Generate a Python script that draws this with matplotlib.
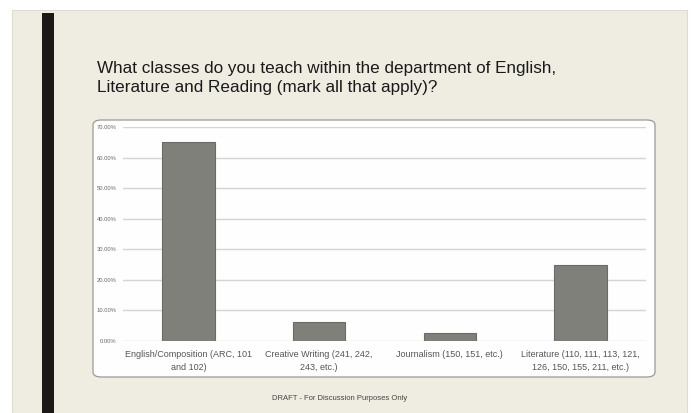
import matplotlib
matplotlib.use("Agg")
import matplotlib.pyplot as plt
from matplotlib.patches import Rectangle, FancyBboxPatch
from matplotlib.ticker import PercentFormatter

# survey answers, share of respondents
categories = [
    "English/Composition (ARC, 101\nand 102)",
    "Creative Writing (241, 242,\n243, etc.)",
    "Journalism (150, 151, etc.)",
    "Literature (110, 111, 113, 121,\n126, 150, 155, 211, etc.)",
]
shares = [0.652, 0.062, 0.026, 0.247]
yticks = [0.0, 0.1, 0.2, 0.3, 0.4, 0.5, 0.6, 0.7]

title = ("What classes do you teach within the department of English,\n"
         "Literature and Reading (mark all that apply)?")
footer = "DRAFT - For Discussion Purposes Only"

plt.rcParams['font.family'] = ['Liberation Sans', 'DejaVu Sans']

W, H = 696, 413
fig = plt.figure(figsize=(W / 100, H / 100), dpi=100)
fig.patch.set_facecolor("white")

def px(x, y):
    # pixel position (from top-left) -> figure fraction
    return x / W, 1 - y / H

# slide background
x0, y0 = px(12, 413)
fig.patches.append(Rectangle((x0, y0), (687 - 12) / W, (413 - 10) / H,
                             transform=fig.transFigure, facecolor="#efece2",
                             edgecolor="#dedbd2", lw=0.8, zorder=0))
# black accent bar on the left
x0, y0 = px(42, 413)
fig.patches.append(Rectangle((x0, y0), 12 / W, (413 - 13) / H,
                             transform=fig.transFigure, facecolor="#1b1a16",
                             edgecolor="none", zorder=1))
# white chart box with rounded corners
x0, y0 = px(93, 377)
fig.patches.append(FancyBboxPatch((x0, y0), (655 - 93) / W, (377 - 120) / H,
                                  boxstyle="round,pad=0,rounding_size=0.012",
                                  transform=fig.transFigure, facecolor="#fefefe",
                                  edgecolor="#9a9a96", lw=0.9, zorder=1))

tx, ty = px(97, 78)
fig.text(tx, ty, title, fontsize=12.3, color="#1a1a1a", va="center",
         ha="left", linespacing=1.3)

fx, fy = px(340, 399)
fig.text(fx, fy, footer, fontsize=5.5, color="#444444", ha="center", va="center")

# plot area
left, bottom = px(123.2, 340.7)
right, top = px(645.8, 127)
ax = fig.add_axes([left, bottom, right - left, top - bottom])
ax.set_facecolor("none")
ax.set_zorder(2)

xs = range(len(categories))
ax.bar(xs, shares, width=0.4, color="#80807a", edgecolor="#6c6c66",
       linewidth=0.8, zorder=3)

ax.set_xlim(-0.5, len(categories) - 0.5)
ax.set_ylim(0, 0.7)
ax.set_yticks(yticks)
ax.yaxis.set_major_formatter(PercentFormatter(1.0, decimals=2))
ax.grid(axis="y", color="#d4d4d2", linewidth=1.0, zorder=0)
ax.set_xticks(list(xs))
ax.set_xticklabels(categories, fontsize=6.5, color="#555555", linespacing=1.55)
ax.tick_params(axis="y", labelsize=4.2, labelcolor="#666666", length=0, pad=5)
ax.tick_params(axis="x", length=0, pad=7)
for s in ax.spines.values():
    s.set_visible(False)

fig.savefig("out.png", dpi=100)
